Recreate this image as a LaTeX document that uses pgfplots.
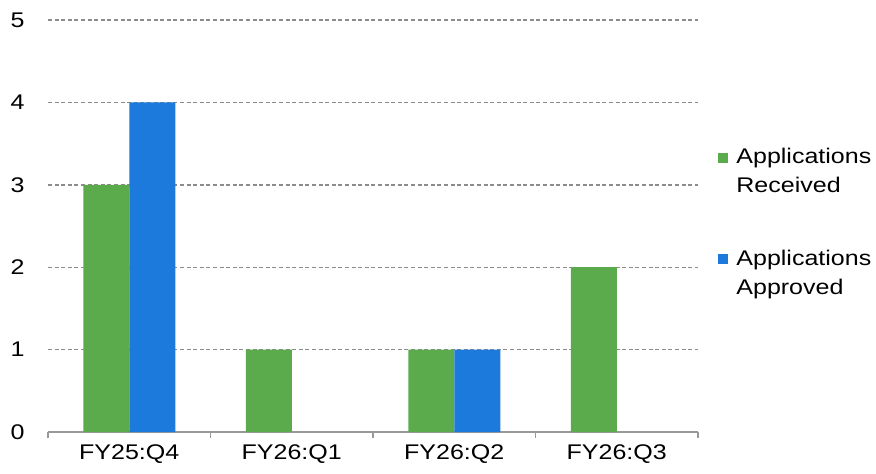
\documentclass[border=0pt]{standalone}
\usepackage{fontspec}
\setmainfont{Liberation Sans}[FakeStretch=1.18]
\usepackage{pgfplots}
\pgfplotsset{compat=1.18}
\definecolor{recv}{HTML}{5BAA4C}
\definecolor{appr}{HTML}{1C7ADC}
\begin{document}
\begin{tikzpicture}
\path[use as bounding box] (-24pt,-20.5pt) rectangle (414pt,216pt);
\begin{axis}[
  scale only axis, width=325pt, height=206pt,
  ymin=0, ymax=5, xmin=-0.5, xmax=3.5,
  ybar=0pt, bar width=23pt,
  axis x line*=bottom, axis y line*=left,
  y axis line style={draw=none},
  x axis line style={-, draw=gray!80, line width=0.7pt},
  ytick={0,1,2,3,4,5},
  ymajorgrids,
  grid style={gray!90, line width=0.7pt, dash pattern=on 2pt off 1.3pt},
  xtick={0,1,2,3},
  xticklabels={FY25:Q4,FY26:Q1,FY26:Q2,FY26:Q3},
  minor xtick={-0.5,0.5,1.5,2.5,3.5},
  major tick length=0pt,
  minor tick length=3pt,
  tick align=outside,
  minor tick style={gray!80, line width=0.6pt},
  /pgf/number format/assume math mode=true,
  tick label style={font=\fontsize{10.6}{12}\selectfont},
  xticklabel style={inner sep=0pt, anchor=north, yshift=-6pt},
  yticklabel style={inner sep=0pt, anchor=east, xshift=-11.5pt},
  legend style={at={(1,1)}, anchor=north west, xshift=10pt, yshift=-64pt,
    draw=none, fill=none, inner sep=0pt, row sep=27pt, column sep=4pt,
    nodes={inner sep=0pt},
    cells={anchor=west, align=left},
    font=\fontsize{10.6}{14.5}\selectfont},
]
\addplot[fill=recv, draw=none,
  legend image code/.code={\path[fill=none,draw=none] (0pt,-9.75pt) rectangle (5pt,9.75pt);
    \fill[recv] (0pt,4.75pt) rectangle (5pt,9.5pt);}]
  coordinates {(0,3) (1,1) (2,1) (3,2)};
\addplot[fill=appr, draw=none,
  legend image code/.code={\path[fill=none,draw=none] (0pt,-9.75pt) rectangle (5pt,9.75pt);
    \fill[appr] (0pt,4.75pt) rectangle (5pt,9.5pt);}]
  coordinates {(0,4) (2,1)};
\legend{Applications\\Received, Applications\\Approved}
\end{axis}
\end{tikzpicture}
\end{document}
